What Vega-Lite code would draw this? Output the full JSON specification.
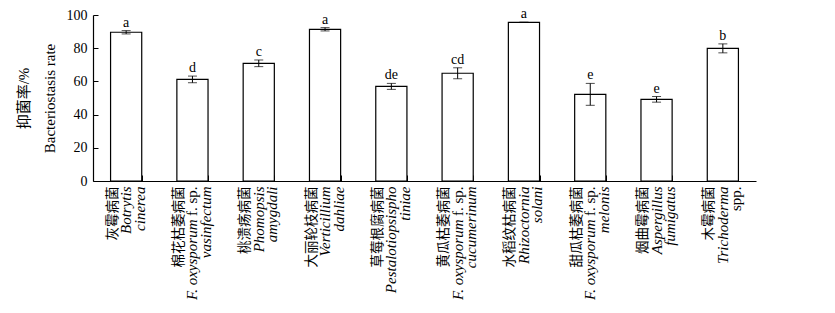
{
  "$schema": "https://vega.github.io/schema/vega-lite/v6.json",
  "width": 663,
  "height": 166,
  "autosize": {"type": "none"},
  "padding": {"left": 93, "top": 15, "right": 79, "bottom": 132},
  "background": "white",
  "config": {
    "font": "Liberation Serif, Noto Sans CJK SC",
    "view": {"stroke": null},
    "axis": {
      "grid": false,
      "domainColor": "black",
      "tickColor": "black",
      "labelColor": "black",
      "titleColor": "black",
      "labelFont": "Liberation Serif, Noto Sans CJK SC",
      "titleFont": "Liberation Serif, Noto Sans CJK SC"
    },
    "axisX": {
      "labelAngle": -90, "labelAlign": "right", "labelBaseline": "middle",
      "labelFontSize": 15, "labelOverlap": false, "labelBound": false, "labelLimit": 200
    }
  },
  "data": {
    "values": [
      {"key": "灰霉病菌|Botrytis||cinerea|", "value": 89.6, "err": 1.0, "hi": 90.6, "sig": "a"},
      {"key": "棉花枯萎病菌|F. oxysporum|f. sp.|vasinfectum|", "value": 61.2, "err": 2.0, "hi": 63.2, "sig": "d"},
      {"key": "桃溃疡病菌|Phomopsis||amygdali|", "value": 70.9, "err": 2.0, "hi": 72.9, "sig": "c"},
      {"key": "大丽轮枝病菌|Verticillium||dahliae|", "value": 91.4, "err": 1.0, "hi": 92.4, "sig": "a"},
      {"key": "草莓根腐病菌|Pestalotiopsispho||tiniae|", "value": 57.0, "err": 1.8, "hi": 58.8, "sig": "de"},
      {"key": "黄瓜枯萎病菌|F. oxysporum|f. sp.|cucumerinum|", "value": 64.9, "err": 3.3, "hi": 68.2, "sig": "cd"},
      {"key": "水稻纹枯病菌|Rhizoctornia||solani|", "value": 95.6, "err": 0, "hi": 95.6, "sig": "a"},
      {"key": "甜瓜枯萎病菌|F. oxysporum|f. sp.|melonis|", "value": 52.2, "err": 6.6, "hi": 58.8, "sig": "e"},
      {"key": "烟曲霉病菌|Aspergillus||fumigatus|", "value": 49.2, "err": 1.7, "hi": 50.9, "sig": "e"},
      {"key": "木霉病菌|Trichoderma|||spp.", "value": 79.9, "err": 2.7, "hi": 82.6, "sig": "b"}
    ]
  },
  "resolve": {"axis": {"x": "independent", "y": "independent"}},
  "layer": [
    {
      "mark": {"type": "bar", "fill": "white", "stroke": "black", "strokeWidth": 1.2},
      "encoding": {
        "x": {
          "field": "key", "type": "nominal", "sort": null,
          "scale": {"paddingInner": 0.53, "paddingOuter": 0.265},
          "axis": {"orient": "bottom", "labels": false, "title": null, "domain": true, "domainWidth": 1.2, "ticks": true, "tickBand": "extent", "tickSize": -6, "tickWidth": 1}
        },
        "y": {
          "field": "value", "type": "quantitative",
          "scale": {"domain": [0, 100], "nice": false},
          "axis": {
            "orient": "left",
            "values": [0, 20, 40, 60, 80, 100],
            "tickSize": -5,
            "tickWidth": 1,
            "domainWidth": 1.2,
            "labelPadding": 11,
            "labelFontSize": 14,
            "title": ["抑菌率/%", "Bacteriostasis rate"],
            "titleFontSize": 15,
            "titleFontWeight": "normal",
            "titleLineHeight": 26,
            "titlePadding": 9
          }
        }
      }
    },
    {
      "mark": {"type": "errorbar", "color": "black", "thickness": 1, "ticks": {"size": 9, "thickness": 1, "color": "black"}},
      "encoding": {
        "x": {"field": "key", "type": "nominal", "sort": null, "axis": null},
        "y": {"field": "value", "type": "quantitative", "axis": null},
        "yError": {"field": "err"}
      }
    },
    {
      "mark": {"type": "text", "fontSize": 14, "baseline": "alphabetic", "dy": -4, "color": "black"},
      "encoding": {
        "x": {
          "field": "key", "type": "nominal", "sort": null,
          "axis": {
            "orient": "bottom", "title": null, "domain": false, "ticks": false,
            "labelPadding": 5, "labelOffset": -13.5, "labelFontSize": 13.5,
            "labelExpr": "split(datum.value,'|')[0]"
          }
        },
        "y": {"field": "hi", "type": "quantitative", "axis": null},
        "text": {"field": "sig"}
      }
    },
    {
      "mark": {"type": "bar", "opacity": 0},
      "encoding": {
        "x": {
          "field": "key", "type": "nominal", "sort": null,
          "axis": {
            "orient": "bottom", "title": null, "domain": false, "ticks": false,
            "labelPadding": 5, "labelOffset": 0,
            "labelFontStyle": {"condition": {"test": "split(datum.value,'|')[2] != ''", "value": "normal"}, "value": "italic"},
            "labelExpr": "split(datum.value,'|')[2] || split(datum.value,'|')[1]"
          }
        },
        "y": {"field": "value", "type": "quantitative", "axis": null}
      }
    },
    {
      "mark": {"type": "bar", "opacity": 0},
      "encoding": {
        "x": {
          "field": "key", "type": "nominal", "sort": null,
          "axis": {
            "orient": "bottom", "title": null, "domain": false, "ticks": false,
            "labelPadding": 38, "labelOffset": 0, "labelFontStyle": "italic",
            "labelExpr": "split(datum.value,'|')[2] ? split(datum.value,'|')[1] : ''"
          }
        },
        "y": {"field": "value", "type": "quantitative", "axis": null}
      }
    },
    {
      "mark": {"type": "bar", "opacity": 0},
      "encoding": {
        "x": {
          "field": "key", "type": "nominal", "sort": null,
          "axis": {
            "orient": "bottom", "title": null, "domain": false, "ticks": false,
            "labelPadding": 5, "labelOffset": 13.5,
            "labelFontStyle": {"condition": {"test": "split(datum.value,'|')[4] != ''", "value": "normal"}, "value": "italic"},
            "labelExpr": "split(datum.value,'|')[3] || split(datum.value,'|')[4]"
          }
        },
        "y": {"field": "value", "type": "quantitative", "axis": null}
      }
    }
  ]
}
